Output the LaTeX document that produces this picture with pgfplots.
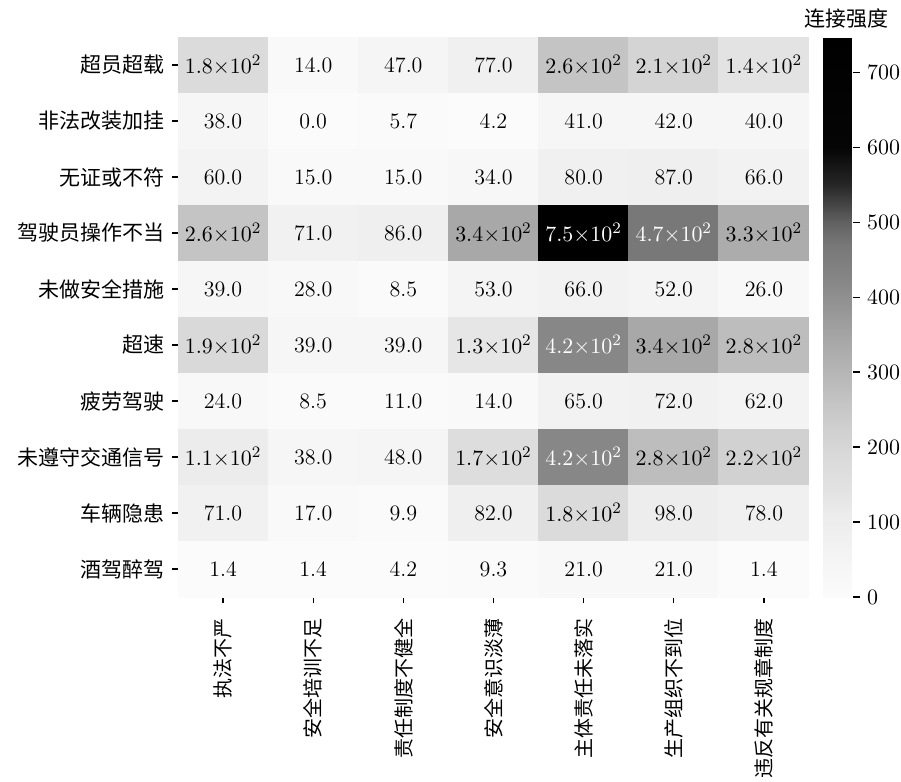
\documentclass[border=0pt]{standalone}
\usepackage{pgfplots}
\pgfplotsset{compat=1.18}
\usepackage{fontspec}
\newfontfamily\cjk{Noto Sans CJK SC}
\begin{document}
\begin{tikzpicture}
\begin{axis}[
  scale only axis, width=315.5pt, height=280pt,
  xmin=-0.5, xmax=6.5, ymin=-0.5, ymax=9.5, y dir=reverse,
  axis line style={draw=none},
  xtick={0,...,6}, ytick={0,...,9},
  xticklabels={执法不严,安全培训不足,责任制度不健全,安全意识淡薄,主体责任未落实,生产组织不到位,违反有关规章制度},
  yticklabels={超员超载,非法改装加挂,无证或不符,驾驶员操作不当,未做安全措施,超速,疲劳驾驶,未遵守交通信号,车辆隐患,酒驾醉驾},
  x tick label style={rotate=90, anchor=east, font=\cjk\fontsize{10}{12}\selectfont, xshift=-4pt},
  y tick label style={font=\cjk\fontsize{10.5}{12}\selectfont},
  xtick pos=bottom, ytick pos=left,
  tick align=outside, major tick length=3pt,
  tick style={black, line width=0.6pt},
  colormap={hm}{gray(0cm)=(0.985); gray(5cm)=(0.96); gray(8cm)=(0.94); gray(11cm)=(0.925); gray(14cm)=(0.89); gray(18cm)=(0.86); gray(22cm)=(0.82); gray(26cm)=(0.77); gray(28cm)=(0.74); gray(34cm)=(0.66); gray(42cm)=(0.53); gray(47cm)=(0.47); gray(50cm)=(0.38); gray(55cm)=(0.15); gray(60cm)=(0.02); gray(74.7cm)=(0)},
  point meta min=0, point meta max=747,
  colorbar,
  colorbar style={
    at={(parent axis.north east)}, anchor=north west, xshift=-1.5pt,
    width=15pt,
    ytick={0,100,...,700},
    ytick pos=right, yticklabel pos=right,
    tick align=outside, major tick length=3.5pt,
    tick style={black, line width=0.6pt},
    axis line style={draw=none},
    yticklabel style={font=\fontsize{11}{13}\selectfont},
    title={\cjk 连接强度},
    title style={font=\cjk\fontsize{10.5}{12}\selectfont, xshift=4pt, yshift=-5pt},
  },
]
\addplot[matrix plot*, mesh/cols=7, point meta=explicit] coordinates {
(0,0) [180] (1,0) [14] (2,0) [47] (3,0) [77] (4,0) [260] (5,0) [210] (6,0) [140]
(0,1) [38] (1,1) [0] (2,1) [5.7] (3,1) [4.2] (4,1) [41] (5,1) [42] (6,1) [40]
(0,2) [60] (1,2) [15] (2,2) [15] (3,2) [34] (4,2) [80] (5,2) [87] (6,2) [66]
(0,3) [260] (1,3) [71] (2,3) [86] (3,3) [340] (4,3) [747] (5,3) [470] (6,3) [330]
(0,4) [39] (1,4) [28] (2,4) [8.5] (3,4) [53] (4,4) [66] (5,4) [52] (6,4) [26]
(0,5) [190] (1,5) [39] (2,5) [39] (3,5) [130] (4,5) [420] (5,5) [340] (6,5) [280]
(0,6) [24] (1,6) [8.5] (2,6) [11] (3,6) [14] (4,6) [65] (5,6) [72] (6,6) [62]
(0,7) [110] (1,7) [38] (2,7) [48] (3,7) [170] (4,7) [420] (5,7) [280] (6,7) [220]
(0,8) [71] (1,8) [17] (2,8) [9.9] (3,8) [82] (4,8) [180] (5,8) [98] (6,8) [78]
(0,9) [1.4] (1,9) [1.4] (2,9) [4.2] (3,9) [9.3] (4,9) [21] (5,9) [21] (6,9) [1.4]
};
\addplot[only marks, mark=none, point meta=explicit symbolic, nodes near coords,
  every node near coord/.append style={anchor=center, text=black, font=\fontsize{11}{13}\selectfont}] coordinates {
(0,0) [$1.8{\times}10^{2}$] (1,0) [14.0] (2,0) [47.0] (3,0) [77.0] (4,0) [$2.6{\times}10^{2}$] (5,0) [$2.1{\times}10^{2}$] (6,0) [$1.4{\times}10^{2}$]
(0,1) [38.0] (1,1) [0.0] (2,1) [5.7] (3,1) [4.2] (4,1) [41.0] (5,1) [42.0] (6,1) [40.0]
(0,2) [60.0] (1,2) [15.0] (2,2) [15.0] (3,2) [34.0] (4,2) [80.0] (5,2) [87.0] (6,2) [66.0]
(0,3) [$2.6{\times}10^{2}$] (1,3) [71.0] (2,3) [86.0] (3,3) [$3.4{\times}10^{2}$] (6,3) [$3.3{\times}10^{2}$]
(0,4) [39.0] (1,4) [28.0] (2,4) [8.5] (3,4) [53.0] (4,4) [66.0] (5,4) [52.0] (6,4) [26.0]
(0,5) [$1.9{\times}10^{2}$] (1,5) [39.0] (2,5) [39.0] (3,5) [$1.3{\times}10^{2}$] (5,5) [$3.4{\times}10^{2}$] (6,5) [$2.8{\times}10^{2}$]
(0,6) [24.0] (1,6) [8.5] (2,6) [11.0] (3,6) [14.0] (4,6) [65.0] (5,6) [72.0] (6,6) [62.0]
(0,7) [$1.1{\times}10^{2}$] (1,7) [38.0] (2,7) [48.0] (3,7) [$1.7{\times}10^{2}$] (5,7) [$2.8{\times}10^{2}$] (6,7) [$2.2{\times}10^{2}$]
(0,8) [71.0] (1,8) [17.0] (2,8) [9.9] (3,8) [82.0] (4,8) [$1.8{\times}10^{2}$] (5,8) [98.0] (6,8) [78.0]
(0,9) [1.4] (1,9) [1.4] (2,9) [4.2] (3,9) [9.3] (4,9) [21.0] (5,9) [21.0] (6,9) [1.4]
};
\addplot[only marks, mark=none, point meta=explicit symbolic, nodes near coords,
  every node near coord/.append style={anchor=center, text=white, font=\fontsize{11}{13}\selectfont}] coordinates {
(4,3) [$7.5{\times}10^{2}$] (5,3) [$4.7{\times}10^{2}$] (4,5) [$4.2{\times}10^{2}$] (4,7) [$4.2{\times}10^{2}$]
};
\end{axis}
\pgfresetboundingbox
\useasboundingbox (-89pt,-92.5pt) rectangle (361.5pt,298.5pt);
\end{tikzpicture}
\end{document}
